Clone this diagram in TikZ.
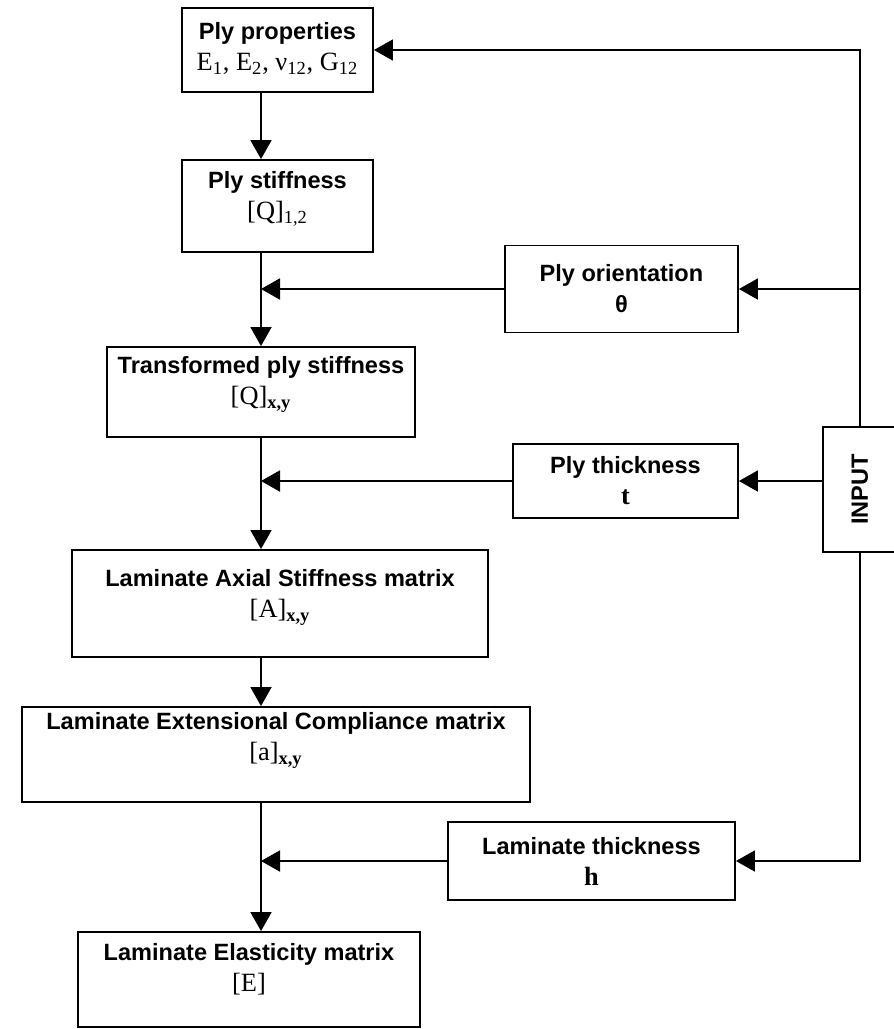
\documentclass[tikz,border=0pt]{standalone}
\usepackage{fontspec}
\setmainfont{Liberation Serif}
\setsansfont{Liberation Sans}
\newcommand{\sertext}[1]{{\fontsize{15}{17.6}\selectfont\rmfamily\mdseries #1}}
\usetikzlibrary{arrows.meta, positioning}

\begin{document}
\begin{tikzpicture}[
    box/.style={rectangle, draw, line width=1.1pt, inner sep=0pt},
    txt/.style={align=center, inner sep=0pt, font=\fontsize{13.4}{17.6}\selectfont\sffamily\bfseries},
    arrow/.style={-{Triangle[length=0.38cm, width=0.42cm]}, line width=1.1pt}
]
    \useasboundingbox (0,0) rectangle (17.88,-20.58);
    \coordinate (flow) at (5.22,0);

    % Ply level
    \node[box, minimum width=3.82cm, minimum height=1.68cm] (props) at (5.55,-1.0) {};
    \node[txt, below=0.3cm of props.north] (propstxt) {Ply properties\\ \sertext{E\textsubscript{1}, E\textsubscript{2}, ν\textsubscript{12}, G\textsubscript{12}}};

    \node[box, minimum width=3.82cm, minimum height=1.84cm] (stiff) at (5.55,-4.12) {};
    \node[txt, below=0.24cm of stiff.north] (stifftxt) {Ply stiffness\\ \sertext{[Q]\textsubscript{1,2}}};

    \node[box, minimum width=4.66cm, minimum height=1.74cm] (orient) at (12.43,-5.78) {};
    \node[txt] (orienttxt) at (orient) {Ply orientation\\ θ};

    \node[box, minimum width=6.16cm, minimum height=1.8cm] (trans) at (5.22,-7.84) {};
    \node[txt, below=0.2cm of trans.north] (transtxt) {Transformed ply stiffness\\ \sertext{[Q]\textsubscript{\textbf{x,y}}}};

    \node[box, minimum width=4.5cm, minimum height=1.48cm] (pthick) at (12.51,-9.62) {};
    \node[txt] (pthicktxt) at (pthick) {Ply thickness\\ \sertext{\textbf{t}}};

    % Input
    \node[box, minimum width=1.48cm, minimum height=2.5cm] (input) at (17.2,-9.79) {};
    \node[txt, rotate=90] (inputtxt) at (input) {INPUT};

    % Laminate level
    \node[box, minimum width=8.32cm, minimum height=2.14cm] (axial) at (5.6,-12.07) {};
    \node[txt, below=0.4cm of axial.north] (axialtxt) {Laminate Axial Stiffness matrix\\ \sertext{[A]\textsubscript{\textbf{x,y}}}};

    \node[box, minimum width=10.16cm, minimum height=1.9cm] (ext) at (5.52,-15.09) {};
    \node[txt, below=0.12cm of ext.north] (exttxt) {Laminate Extensional Compliance matrix\\ \sertext{[a]\textsubscript{\textbf{x,y}}}};

    \node[box, minimum width=5.74cm, minimum height=1.56cm] (lthick) at (11.83,-17.22) {};
    \node[txt] (lthicktxt) at (lthick) {Laminate thickness\\ \sertext{\textbf{h}}};

    \node[box, minimum width=6.84cm, minimum height=1.9cm] (elast) at (4.98,-19.59) {};
    \node[txt, below=0.24cm of elast.north] (elasttxt) {Laminate Elasticity matrix\\ \sertext{[E]}};

    % Main flow
    \draw[arrow] (props.south -| flow) -- (stiff.north -| flow);
    \draw[arrow] (stiff.south -| flow) -- (trans.north -| flow);
    \draw[arrow] (trans.south -| flow) -- (axial.north -| flow);
    \draw[arrow] (axial.south -| flow) -- (ext.north -| flow);
    \draw[arrow] (ext.south -| flow) -- (elast.north -| flow);

    % Side inputs
    \draw[arrow] (orient.west) -- (orient.west -| flow);
    \draw[arrow] (pthick.west) -- (pthick.west -| flow);
    \draw[arrow] (lthick.west) -- (lthick.west -| flow);

    % Arrows from INPUT
    \draw[arrow] (input.north) |- (props.east);
    \draw[arrow] (input.north |- orient.east) -- (orient.east);
    \draw[arrow] (input.west |- pthick.east) -- (pthick.east);
    \draw[arrow] (input.south) |- (lthick.east);

\end{tikzpicture}
\end{document}
